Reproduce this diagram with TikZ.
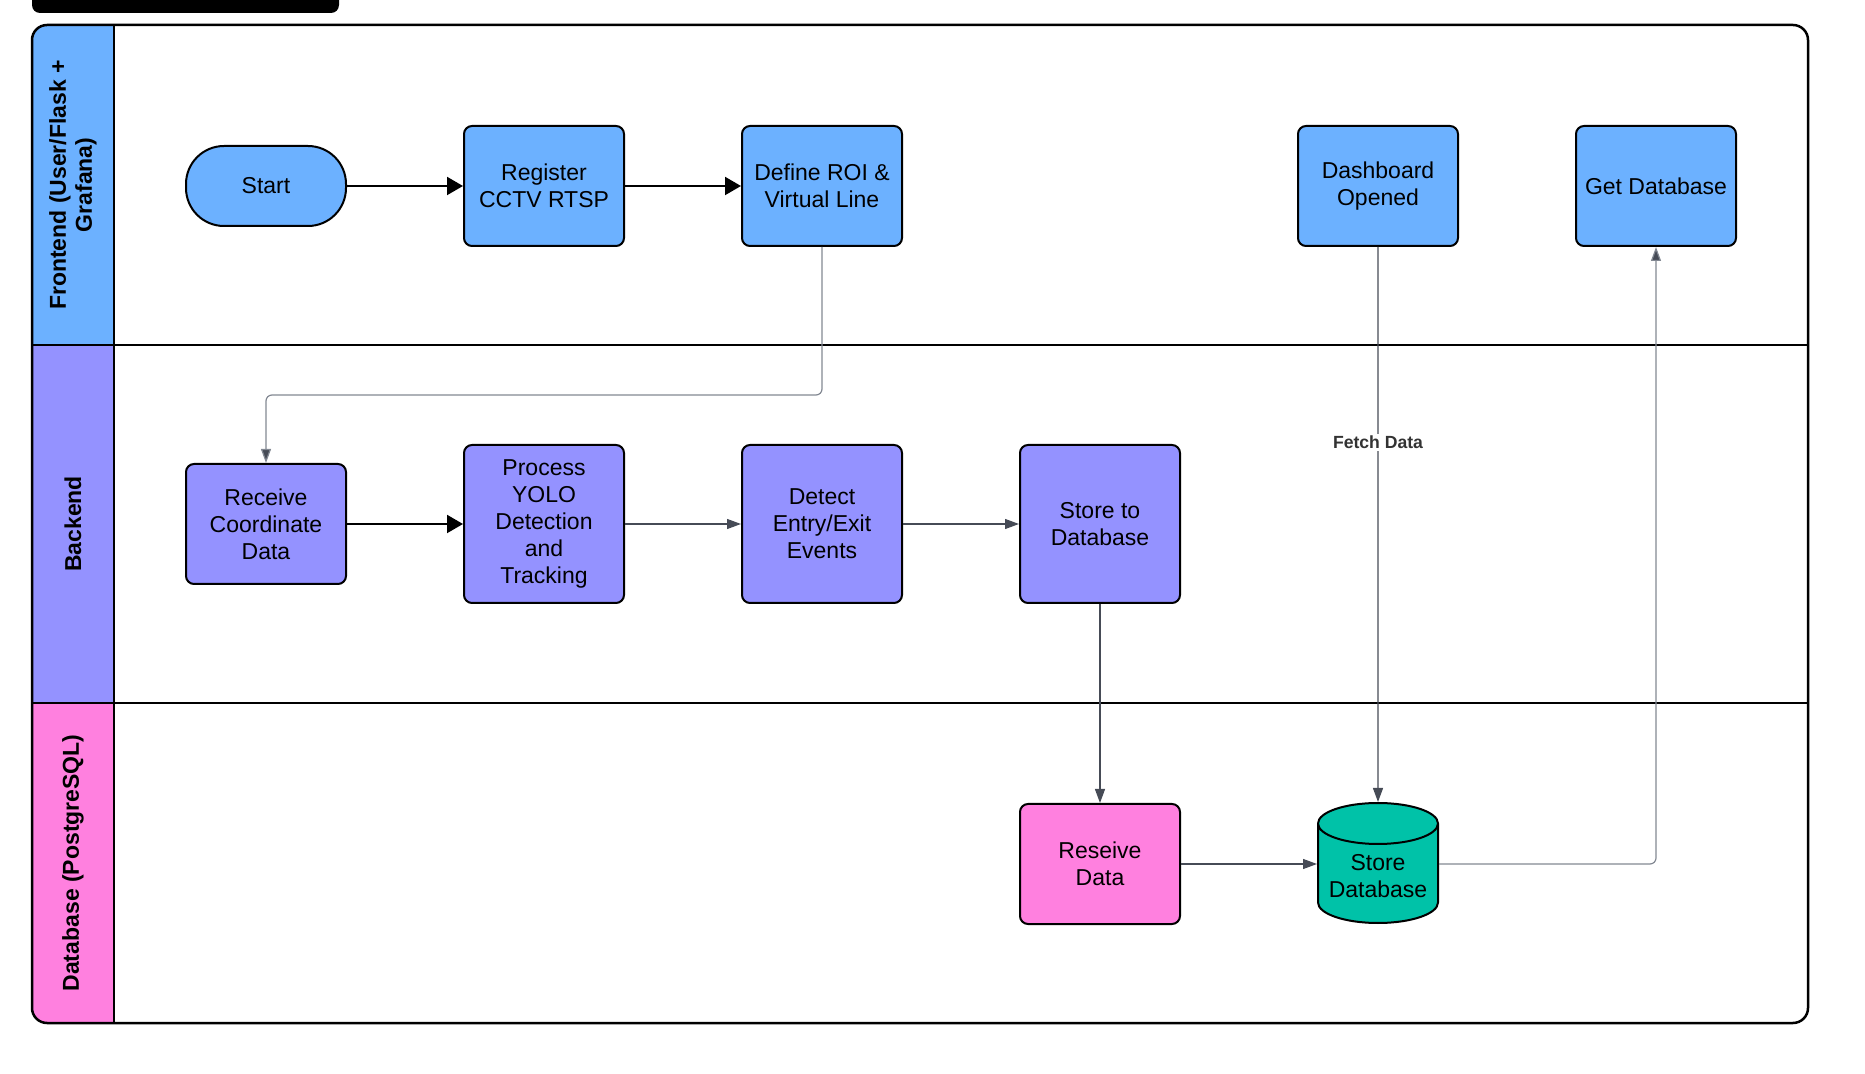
\documentclass[tikz,border=0pt]{standalone}
\usepackage{fontspec}
\setmainfont{Liberation Sans}
\usetikzlibrary{arrows.meta,shapes.geometric}
\definecolor{fe}{RGB}{108,177,255}
\definecolor{be}{RGB}{148,146,255}
\definecolor{dbc}{RGB}{255,128,223}
\definecolor{teal}{RGB}{0,194,168}
\definecolor{dk}{RGB}{70,75,86}
\definecolor{lt}{RGB}{130,136,146}
\begin{document}
\begin{tikzpicture}[x=0.5pt,y=-0.5pt,
  txt/.style={font=\fontsize{11.5}{13.6}\selectfont},
  box/.style={txt,draw,line width=1pt,rounded corners=4pt,minimum width=80pt,minimum height=60pt,align=center,inner sep=2pt},
  tallbox/.style={box,minimum height=79pt},
  heavy/.style={line width=1pt,-{Triangle[length=8pt,width=9pt]}},
  thinarr/.style={draw=dk,line width=0.6pt,-{Triangle[length=7pt,width=5pt]}},
  ltarr/.style={draw=lt,line width=0.6pt,rounded corners=3pt,-{Triangle[length=7pt,width=5pt,fill=dk]}},
  lane/.style={rotate=90,align=center,font=\fontsize{11.5}{13}\selectfont\bfseries},
  fetch/.style={fill=white,inner sep=1pt,text=black!80,font=\fontsize{8.8}{10}\selectfont\bfseries}
]
\useasboundingbox (0,0) rectangle (1865,1074);
% title bar
\fill[black,rounded corners=4pt] (32,-20) rectangle (339,13);
% lanes
\begin{scope}
\clip[rounded corners=7.5pt] (32,25) rectangle (1808,1023);
\fill[fe] (32,25) rectangle (114,345);
\fill[be] (32,345) rectangle (114,703);
\fill[dbc] (32,703) rectangle (114,1023);
\end{scope}
\draw[line width=1.25pt] (114,25) -- (114,1023);
\draw[line width=1.25pt] (32,345) -- (1808,345);
\draw[line width=1.25pt] (32,703) -- (1808,703);
\draw[line width=1.25pt,rounded corners=7.5pt] (32,25) rectangle (1808,1023);
\node[lane] (lfe) at (73,185) {Frontend (User/Flask +\\Grafana)};
\node[lane] (lbe) at (73,524) {Backend};
\node[lane] (ldb) at (73,863) {Database (PostgreSQL)};
% nodes
\node[box,fill=fe,minimum height=40pt,rounded corners=19pt] (start) at (266,186) {Start};
\node[box,fill=fe] (reg) at (544,186) {Register\\CCTV RTSP};
\node[box,fill=fe] (roi) at (822,186) {Define ROI \&\\Virtual Line};
\node[box,fill=fe] (dash) at (1378,186) {Dashboard\\Opened};
\node[box,fill=fe] (getdb) at (1656,186) {Get Database};
\node[box,fill=be] (recv) at (266,524) {Receive\\Coordinate\\Data};
\node[tallbox,fill=be] (proc) at (544,524) {Process\\YOLO\\Detection\\and\\Tracking};
\node[tallbox,fill=be] (det) at (822,524) {Detect\\Entry/Exit\\Events};
\node[tallbox,fill=be] (store) at (1100,524) {Store to\\Database};
\node[box,fill=dbc] (resv) at (1100,864) {Reseive\\Data};
\node[txt,draw,fill=teal,line width=1pt,shape=cylinder,shape border rotate=90,aspect=0.4,minimum width=60pt,minimum height=60pt,align=center,inner sep=1pt,anchor=south] (sdb) at (1378,924) {Store\\Database};
% edges
\draw[heavy] (start) -- (reg);
\draw[heavy] (reg) -- (roi);
\draw[heavy] (recv) -- (proc);
\draw[thinarr] (proc) -- (det);
\draw[thinarr] (det) -- (store);
\draw[ltarr] (roi.south) |- (544,395) -| (recv.north);
\draw[thinarr] (store) -- (resv);
\draw[thinarr] (dash) -- node[fetch,pos=0.352] {Fetch Data} (sdb.north);
\draw[thinarr] (resv) -- (resv -| sdb.west);
\draw[ltarr] (sdb.east |- resv) -| (getdb.south);
\end{tikzpicture}
\end{document}
